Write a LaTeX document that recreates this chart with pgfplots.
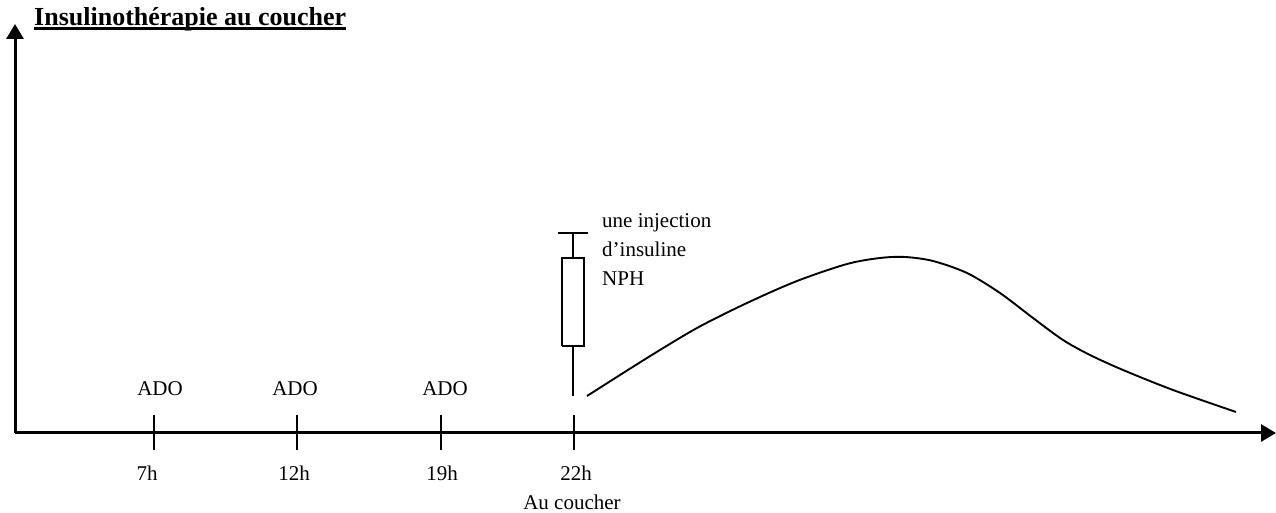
\documentclass[border=0pt]{standalone}
\usepackage{pgfplots}
\usepackage{fontspec}
\setmainfont{Liberation Serif}
\pgfplotsset{compat=1.18}
\usetikzlibrary{arrows.meta}
\pgfplotstableread{
x y
587 37
647 75
697 105
747 130
797 152
847 169
880 175
905 176
933 172
967 160
1000 140
1033 115
1063 93
1090 78
1123 63
1173 43
1236 21
}\curve
\pgfplotstableread{
x y
573 37
573 87
}\stemlow
\pgfplotstableread{
x y
573 175
573 200
}\stemhigh
\pgfplotstableread{
x y
558 200
588 200
}\plunger
\pgfplotstableread{
x y
562 87
584 87
584 175
562 175
562 87
}\barrel
\newcommand{\bodyfont}{\fontsize{21}{24}\selectfont}
\begin{document}
\begin{tikzpicture}[x=1pt,y=1pt]
\path[use as bounding box] (-15pt,-80pt) rectangle (1261pt,433pt);
\begin{axis}[
  scale only axis,
  width=1261pt,height=409pt,
  xmin=15,xmax=1276,ymin=0,ymax=409,
  axis lines=left,
  axis line style={line width=3pt,-{Triangle[length=15pt,width=17pt]}},
  clip=false,
  xtick={154,297,441,574},
  xticklabel=\empty,
  ytick=\empty,
  tick align=center,
  major tick length=35pt,
  tick style={black,line width=2pt},
]
\addplot[black,line width=1.9pt,no markers,smooth,tension=0.5] table {\curve};
\addplot[black,line width=1.9pt,no markers] table {\stemlow};
\addplot[black,line width=1.9pt,no markers] table {\stemhigh};
\addplot[black,line width=1.9pt,no markers] table {\plunger};
\addplot[black,line width=1.9pt,no markers,sharp plot] table {\barrel};
\node[inner sep=0pt,anchor=base west,font=\fontsize{26}{30}\selectfont\bfseries] at (axis cs:34,407) {\vtop{\hbox{Insulinothérapie au coucher}\kern-4.5pt\hrule height 2.5pt}};
\node[anchor=base,font=\bodyfont] at (axis cs:160,37) {ADO};
\node[anchor=base,font=\bodyfont] at (axis cs:295,37) {ADO};
\node[anchor=base,font=\bodyfont] at (axis cs:445,37) {ADO};
\node[anchor=base,font=\bodyfont] at (axis cs:147,-48) {7h};
\node[anchor=base,font=\bodyfont] at (axis cs:294,-48) {12h};
\node[anchor=base,font=\bodyfont] at (axis cs:442,-48) {19h};
\node[anchor=base,font=\bodyfont] at (axis cs:576,-48) {22h};
\node[anchor=base,font=\bodyfont] at (axis cs:572,-77) {Au coucher};
\node[inner sep=0pt,anchor=base west,font=\bodyfont] at (axis cs:602,205) {une injection};
\node[inner sep=0pt,anchor=base west,font=\bodyfont] at (axis cs:602,176) {d’insuline};
\node[inner sep=0pt,anchor=base west,font=\bodyfont] at (axis cs:602,147) {NPH};
\end{axis}
\end{tikzpicture}
\end{document}
